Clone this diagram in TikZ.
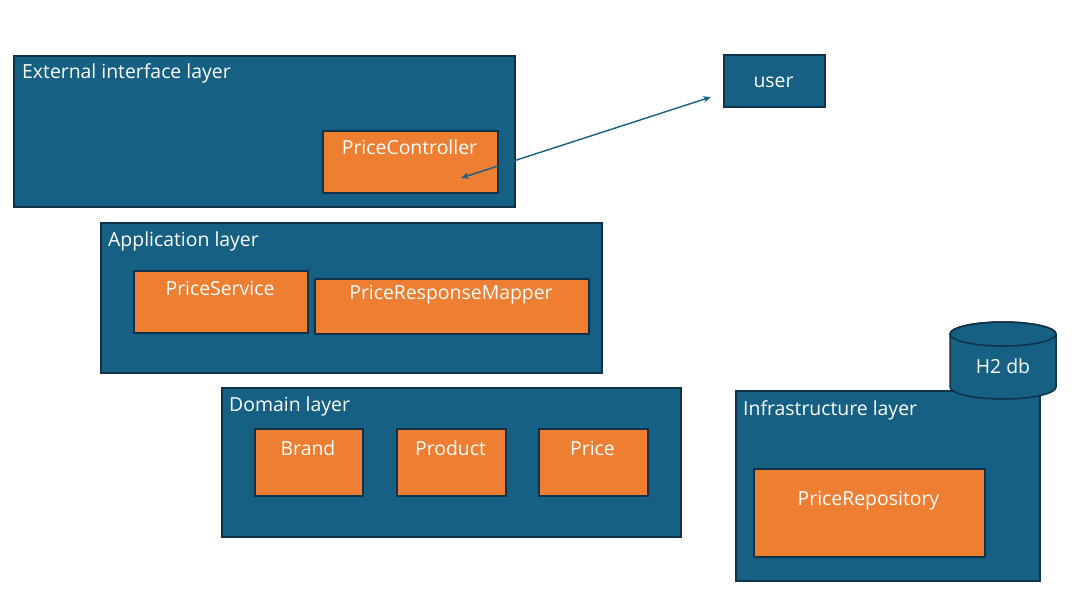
\documentclass[tikz,border=0pt]{standalone}
\usepackage{fontspec}
\setmainfont{Open Sans}
\usetikzlibrary{arrows.meta}
\definecolor{layerblue}{HTML}{166083}
\definecolor{boxorange}{HTML}{ED7E32}
\definecolor{edgedark}{HTML}{0F3249}
\begin{document}
\begin{tikzpicture}[x=1pt,y=-1pt,
  layerbox/.style={draw=edgedark,line width=1.5pt,fill=layerblue,inner sep=0pt,anchor=north west},
  compbox/.style={draw=edgedark,line width=1.5pt,fill=boxorange,inner sep=0pt,anchor=north west},
  txt/.style={text=white,font=\fontsize{19.4}{21}\selectfont,inner sep=0pt},
  conn/.style={draw=layerblue,line width=1.4pt,{Stealth[length=8pt,width=6.5pt]}-{Stealth[length=8pt,width=6.5pt]}}
]
\useasboundingbox (0,0) rectangle (1081,603);
\fill[white] (0,0) rectangle (1081,603);

% External interface layer
\node[layerbox,minimum width=501pt,minimum height=151pt] (ext) at (13,55) {};
\node[txt,anchor=base west] (extl) at (22,78) {External interface layer};
\node[compbox,minimum width=175pt,minimum height=62pt] (pc) at (322,130) {};
\node[txt,anchor=base] (pcl) at (409.5,154) {PriceController};

% user
\node[layerbox,minimum width=101pt,minimum height=52pt] (user) at (723,54) {};
\node[txt,anchor=base] (userl) at (773.5,87) {user};

% Application layer
\node[layerbox,minimum width=501pt,minimum height=150pt] (app) at (100,222) {};
\node[txt,anchor=base west] (appl) at (108,246) {Application layer};
\node[compbox,minimum width=174pt,minimum height=62pt] (ps) at (133,270) {};
\node[txt,anchor=base] (psl) at (220,295) {PriceService};
\node[compbox,minimum width=274pt,minimum height=55pt] (prm) at (314,278) {};
\node[txt,anchor=base] (prml) at (451,299) {PriceResponseMapper};

% Domain layer
\node[layerbox,minimum width=459pt,minimum height=149pt] (dom) at (221,387) {};
\node[txt,anchor=base west] (doml) at (229,411) {Domain layer};
\node[compbox,minimum width=108pt,minimum height=67pt] (brand) at (254,428) {};
\node[txt,anchor=base] (brandl) at (308,455) {Brand};
\node[compbox,minimum width=109pt,minimum height=67pt] (prod) at (396,428) {};
\node[txt,anchor=base] (prodl) at (450.5,455) {Product};
\node[compbox,minimum width=109pt,minimum height=67pt] (price) at (538,428) {};
\node[txt,anchor=base] (pricel) at (592.5,455) {Price};

% Infrastructure layer
\node[layerbox,minimum width=304pt,minimum height=190pt] (infra) at (735,390) {};
\node[txt,anchor=base west] (infral) at (743,415) {Infrastructure layer};
\node[compbox,minimum width=231pt,minimum height=88pt] (repo) at (753,468) {};
\node[txt,anchor=base] (repol) at (868.5,505) {PriceRepository};

% H2 db cylinder
\filldraw[draw=edgedark,line width=1.5pt,fill=layerblue]
  (950,334) -- (950,387) arc[start angle=180,end angle=360,x radius=53pt,y radius=12pt]
  -- (1056,334) arc[start angle=0,end angle=180,x radius=53pt,y radius=12pt] -- cycle;
\draw[draw=edgedark,line width=1.5pt] (1003,334) ellipse[x radius=53pt,y radius=12pt];
\node[txt,anchor=base] (dbl) at (1003,373) {H2 db};

% connector
\coordinate (a1) at (461,178);
\coordinate (a2) at (711,97);
\draw[conn] (a1) -- (a2);
\end{tikzpicture}
\end{document}
